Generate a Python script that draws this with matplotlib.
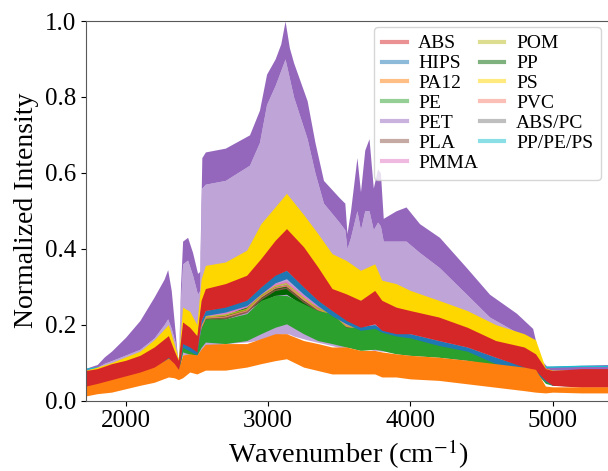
import matplotlib
matplotlib.use("Agg")
import matplotlib.pyplot as plt
from matplotlib.lines import Line2D

plt.rcParams['font.family'] = ['Liberation Serif', 'DejaVu Serif']
plt.rcParams['mathtext.fontset'] = 'stix'

# ---------------- data ----------------
wn = [1720, 1800, 1900, 2000, 2100, 2200, 2300, 2340, 2370, 2400, 2450, 2500, 2530,
      2560, 2700, 2850, 2950, 3050, 3130, 3250, 3350, 3450, 3550, 3650, 3750, 3800,
      3900, 4000, 4200, 4400, 4600, 4800, 4880, 4950, 5000, 5200, 5400]

abs_lo = [0.035, 0.040, 0.048, 0.057, 0.066, 0.084, 0.114, 0.092, 0.075, 0.150, 0.141, 0.128, 0.211,
          0.237, 0.246, 0.264, 0.299, 0.330, 0.343, 0.299, 0.264, 0.237, 0.211, 0.193, 0.202, 0.185,
          0.176, 0.176, 0.158, 0.141, 0.114, 0.088, 0.079, 0.053, 0.040, 0.035, 0.035]
abs_hi = [0.079, 0.084, 0.097, 0.106, 0.119, 0.141, 0.171, 0.132, 0.106, 0.207, 0.193, 0.171, 0.264,
          0.295, 0.308, 0.330, 0.374, 0.422, 0.453, 0.405, 0.352, 0.295, 0.281, 0.264, 0.290, 0.264,
          0.246, 0.237, 0.220, 0.193, 0.158, 0.141, 0.123, 0.084, 0.079, 0.084, 0.084]

hips_lo = [0.030, 0.035, 0.045, 0.055, 0.062, 0.078, 0.105, 0.088, 0.072, 0.140, 0.130, 0.120, 0.200,
           0.224, 0.233, 0.250, 0.281, 0.310, 0.321, 0.280, 0.250, 0.223, 0.202, 0.185, 0.190, 0.180,
           0.170, 0.165, 0.145, 0.130, 0.097, 0.082, 0.075, 0.050, 0.040, 0.038, 0.038]
hips_hi = [0.045, 0.050, 0.058, 0.065, 0.074, 0.090, 0.118, 0.098, 0.080, 0.152, 0.142, 0.130, 0.212,
           0.237, 0.248, 0.265, 0.300, 0.332, 0.343, 0.300, 0.265, 0.238, 0.215, 0.195, 0.200, 0.188,
           0.178, 0.176, 0.158, 0.141, 0.114, 0.090, 0.080, 0.056, 0.050, 0.048, 0.048]

pa12_lo = [0.012, 0.018, 0.022, 0.031, 0.040, 0.048, 0.062, 0.060, 0.055, 0.060, 0.075, 0.070, 0.075,
           0.080, 0.080, 0.088, 0.097, 0.105, 0.110, 0.088, 0.079, 0.070, 0.070, 0.070, 0.070, 0.062,
           0.062, 0.057, 0.053, 0.044, 0.035, 0.026, 0.022, 0.020, 0.022, 0.020, 0.020]
pa12_hi = [0.038, 0.045, 0.055, 0.065, 0.075, 0.088, 0.112, 0.098, 0.082, 0.120, 0.123, 0.120, 0.135,
           0.148, 0.150, 0.150, 0.163, 0.176, 0.176, 0.158, 0.150, 0.141, 0.141, 0.132, 0.132, 0.128,
           0.123, 0.119, 0.114, 0.106, 0.097, 0.088, 0.082, 0.038, 0.036, 0.036, 0.036]

pe_lo = [0.035, 0.040, 0.048, 0.055, 0.065, 0.080, 0.114, 0.090, 0.070, 0.128, 0.122, 0.119, 0.140,
         0.154, 0.150, 0.158, 0.176, 0.193, 0.202, 0.176, 0.158, 0.150, 0.141, 0.132, 0.135, 0.132,
         0.123, 0.119, 0.114, 0.106, 0.092, 0.085, 0.078, 0.045, 0.040, 0.038, 0.038]
pe_hi = [0.050, 0.055, 0.062, 0.070, 0.078, 0.095, 0.128, 0.100, 0.080, 0.150, 0.142, 0.136, 0.190,
         0.215, 0.215, 0.229, 0.264, 0.277, 0.277, 0.255, 0.237, 0.229, 0.193, 0.193, 0.193, 0.185,
         0.176, 0.167, 0.150, 0.132, 0.106, 0.092, 0.082, 0.052, 0.050, 0.048, 0.048]

pp_lo = [0.040, 0.045, 0.052, 0.060, 0.068, 0.084, 0.110, 0.090, 0.072, 0.140, 0.130, 0.122, 0.185,
         0.210, 0.215, 0.235, 0.262, 0.277, 0.280, 0.250, 0.232, 0.218, 0.190, 0.183, 0.185, 0.176,
         0.166, 0.160, 0.142, 0.125, 0.095, 0.082, 0.075, 0.048, 0.042, 0.040, 0.040]
pp_hi = [0.050, 0.052, 0.060, 0.068, 0.076, 0.092, 0.120, 0.097, 0.078, 0.148, 0.138, 0.130, 0.195,
         0.220, 0.225, 0.248, 0.280, 0.300, 0.305, 0.265, 0.248, 0.228, 0.198, 0.190, 0.192, 0.183,
         0.173, 0.166, 0.148, 0.131, 0.100, 0.087, 0.079, 0.052, 0.048, 0.047, 0.047]

ps_lo = [0.070, 0.075, 0.090, 0.100, 0.115, 0.135, 0.165, 0.130, 0.100, 0.200, 0.190, 0.165, 0.260,
         0.290, 0.305, 0.325, 0.370, 0.415, 0.445, 0.400, 0.340, 0.290, 0.273, 0.264, 0.270, 0.255,
         0.246, 0.229, 0.211, 0.176, 0.150, 0.132, 0.120, 0.060, 0.055, 0.055, 0.055]
ps_hi = [0.080, 0.088, 0.100, 0.115, 0.130, 0.160, 0.200, 0.150, 0.110, 0.246, 0.235, 0.200, 0.320,
         0.356, 0.365, 0.396, 0.466, 0.510, 0.546, 0.490, 0.440, 0.387, 0.369, 0.343, 0.360, 0.317,
         0.308, 0.290, 0.264, 0.237, 0.200, 0.176, 0.160, 0.085, 0.080, 0.080, 0.080]

# thin classes sitting in the mixed zone between HIPS and PE
pmma = [0.046, 0.051, 0.059, 0.067, 0.075, 0.092, 0.120, 0.096, 0.077, 0.147, 0.139, 0.130, 0.198,
        0.224, 0.230, 0.246, 0.280, 0.305, 0.312, 0.275, 0.247, 0.229, 0.201, 0.192, 0.195, 0.185,
        0.175, 0.168, 0.150, 0.133, 0.102, 0.088, 0.080, 0.053, 0.050, 0.049, 0.049]
pom = [0.045, 0.050, 0.058, 0.065, 0.073, 0.090, 0.118, 0.095, 0.076, 0.145, 0.137, 0.128, 0.195,
       0.220, 0.225, 0.240, 0.276, 0.301, 0.308, 0.270, 0.243, 0.226, 0.198, 0.190, 0.192, 0.183,
       0.173, 0.166, 0.148, 0.131, 0.100, 0.087, 0.079, 0.052, 0.048, 0.047, 0.047]
pvc = [0.044, 0.048, 0.056, 0.063, 0.071, 0.088, 0.116, 0.093, 0.075, 0.143, 0.135, 0.126, 0.192,
       0.217, 0.220, 0.236, 0.272, 0.296, 0.302, 0.266, 0.240, 0.224, 0.196, 0.188, 0.190, 0.181,
       0.171, 0.164, 0.146, 0.129, 0.098, 0.085, 0.077, 0.050, 0.046, 0.045, 0.045]
pla = [0.043, 0.047, 0.055, 0.062, 0.070, 0.086, 0.114, 0.092, 0.074, 0.141, 0.133, 0.124, 0.188,
       0.212, 0.216, 0.232, 0.266, 0.290, 0.296, 0.260, 0.236, 0.221, 0.194, 0.186, 0.188, 0.179,
       0.169, 0.162, 0.144, 0.127, 0.096, 0.083, 0.076, 0.049, 0.044, 0.043, 0.043]
abs_pc = [0.025, 0.030, 0.038, 0.048, 0.058, 0.068, 0.087, 0.079, 0.068, 0.090, 0.099, 0.095, 0.105,
          0.114, 0.115, 0.119, 0.130, 0.140, 0.143, 0.123, 0.115, 0.105, 0.105, 0.100, 0.100, 0.095,
          0.092, 0.088, 0.083, 0.075, 0.066, 0.057, 0.052, 0.025, 0.026, 0.025, 0.025]
pp_pe_ps = [0.082, 0.086, 0.072, 0.082, 0.092, 0.112, 0.142, 0.112, 0.090, 0.178, 0.167, 0.150, 0.237,
            0.266, 0.277, 0.297, 0.336, 0.376, 0.398, 0.352, 0.308, 0.266, 0.246, 0.228, 0.246, 0.224,
            0.211, 0.206, 0.189, 0.167, 0.136, 0.114, 0.100, 0.088, 0.088, 0.090, 0.090]

# PET (purple) on its own, finer grid: top envelope, dense-band bottom, sparse-lines bottom
pet_wn = [1720, 1800, 1850, 1900, 2000, 2100, 2200, 2270, 2295, 2320, 2350, 2370, 2385, 2400,
          2435, 2470, 2505, 2520, 2535, 2560, 2700, 2870, 2940, 2990, 3050, 3090, 3120, 3150,
          3180, 3275, 3330, 3390, 3500, 3540, 3555, 3580, 3625, 3650, 3680, 3710, 3740, 3770,
          3790, 3810, 3900, 3970, 4065, 4205, 4395, 4557, 4746, 4860, 4910, 4960, 5400]
pet_hi = [0.085, 0.095, 0.115, 0.130, 0.167, 0.211, 0.273, 0.320, 0.345, 0.290, 0.170, 0.090, 0.300, 0.420,
          0.430, 0.390, 0.335, 0.340, 0.640, 0.655, 0.665, 0.700, 0.765, 0.860, 0.900, 0.940, 1.000, 0.930,
          0.890, 0.790, 0.680, 0.580, 0.535, 0.520, 0.440, 0.500, 0.640, 0.550, 0.660, 0.690, 0.560, 0.610,
          0.600, 0.480, 0.500, 0.510, 0.466, 0.430, 0.350, 0.280, 0.230, 0.190, 0.110, 0.090, 0.095]
pet_mid = [0.078, 0.088, 0.098, 0.105, 0.120, 0.135, 0.165, 0.200, 0.215, 0.190, 0.150, 0.085, 0.260, 0.360,
           0.370, 0.330, 0.280, 0.290, 0.560, 0.570, 0.580, 0.620, 0.680, 0.780, 0.830, 0.870, 0.900, 0.850,
           0.800, 0.690, 0.600, 0.520, 0.470, 0.450, 0.400, 0.430, 0.500, 0.450, 0.500, 0.500, 0.450, 0.470,
           0.460, 0.420, 0.420, 0.420, 0.390, 0.350, 0.280, 0.220, 0.180, 0.150, 0.090, 0.075, 0.075]
pet_lo = [0.060, 0.065, 0.070, 0.075, 0.085, 0.095, 0.110, 0.125, 0.130, 0.120, 0.100, 0.080, 0.100, 0.120,
          0.120, 0.115, 0.110, 0.110, 0.130, 0.140, 0.150, 0.155, 0.160, 0.165, 0.170, 0.175, 0.175, 0.175,
          0.170, 0.160, 0.155, 0.150, 0.140, 0.140, 0.140, 0.140, 0.135, 0.135, 0.135, 0.135, 0.132, 0.132,
          0.130, 0.130, 0.125, 0.120, 0.118, 0.115, 0.105, 0.095, 0.085, 0.080, 0.070, 0.050, 0.050]

labels = ['ABS', 'HIPS', 'PA12', 'PE', 'PET', 'PLA', 'PMMA',
          'POM', 'PP', 'PS', 'PVC', 'ABS/PC', 'PP/PE/PS']
colors = ['tab:red', 'tab:blue', 'tab:orange', 'tab:green', 'tab:purple', 'tab:brown', 'tab:pink',
          'tab:olive', 'darkgreen', 'gold', 'salmon', 'gray', 'tab:cyan']
col = dict(zip(labels, colors))

# ---------------- figure ----------------
fig = plt.figure(figsize=(6.08, 4.71), dpi=100)
ax = fig.add_axes([86 / 608, 1 - 400.5 / 471, (609.5 - 86) / 608, (400.5 - 21) / 471])

# everything on one z-level so the drawing order decides what covers what
ax.fill_between(pet_wn, pet_lo, pet_mid, color=col['PET'], alpha=0.6, lw=0, zorder=1)
ax.fill_between(pet_wn, pet_mid, pet_hi, color=col['PET'], lw=0, zorder=1)
ax.plot(wn, pp_pe_ps, color=col['PP/PE/PS'], lw=1.0, zorder=1)
ax.plot(wn, abs_pc, color=col['ABS/PC'], lw=1.0, zorder=1)
ax.fill_between(wn, ps_lo, ps_hi, color=col['PS'], lw=0, zorder=1)
ax.fill_between(wn, pp_lo, pp_hi, color=col['PP'], lw=0, zorder=1)
for name, arr in (('PLA', pla), ('PVC', pvc), ('POM', pom), ('PMMA', pmma)):
    ax.plot(wn, arr, color=col[name], lw=1.1, alpha=0.9, zorder=1)
ax.fill_between(wn, pe_lo, pe_hi, color=col['PE'], lw=0, zorder=1)
ax.fill_between(wn, hips_lo, hips_hi, color=col['HIPS'], lw=0, zorder=1)
ax.fill_between(wn, abs_lo, abs_hi, color=col['ABS'], lw=0, zorder=1)
ax.fill_between(wn, pa12_lo, pa12_hi, color=col['PA12'], lw=0, zorder=1)

ax.set_xlim(1721, 5400)
ax.set_ylim(0, 1.0)
ax.set_xticks([2000, 3000, 4000, 5000])
ax.set_yticks([0.0, 0.2, 0.4, 0.6, 0.8, 1.0])
ax.tick_params(labelsize=18)
for s in ax.spines.values():
    s.set_color('0.35')
ax.set_xlabel('Wavenumber (cm$^{-1}$)', fontsize=20.5)
ax.set_ylabel('Normalized Intensity', fontsize=20)

handles = [Line2D([], [], color=c, lw=3, alpha=0.5) for c in colors]
fig.legend(handles, labels, ncol=2, loc='upper right', fontsize=14,
           bbox_to_anchor=(601 / 608, 1 - 27 / 471), bbox_transform=fig.transFigure,
           borderaxespad=0, handlelength=1.25, handletextpad=0.6, columnspacing=0.1,
           labelspacing=0.12, framealpha=0.8)

fig.savefig('out.png', dpi=100)
